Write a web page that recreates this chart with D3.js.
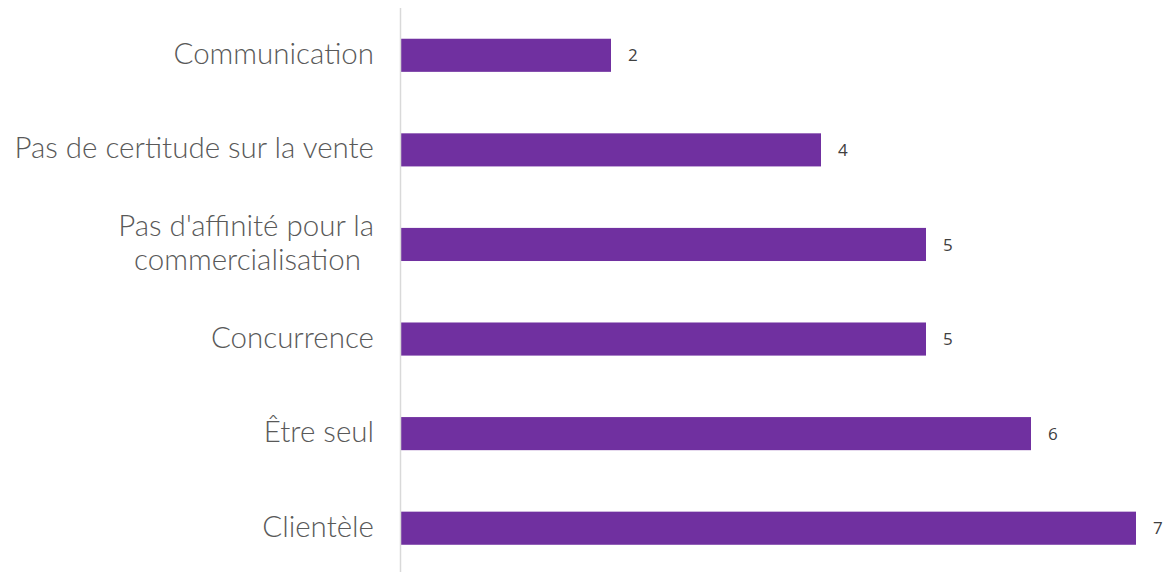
<!DOCTYPE html>
<html>
<head>
<meta charset="utf-8">
<script src="https://cdn.jsdelivr.net/npm/d3@7"></script>
<style>
  body { margin: 0; background: #fff; }
  svg { display: block; }
</style>
</head>
<body>
<svg id="chart"></svg>
<script>
// categories top to bottom, with their counts
const categories = ["Communication", "Pas de certitude sur la vente", "Pas d'affinité pour la commercialisation", "Concurrence", "Être seul", "Clientèle"];
const labelLines = [["Communication"], ["Pas de certitude sur la vente"], ["Pas d'affinité pour la", "commercialisation"], ["Concurrence"], ["Être seul"], ["Clientèle"]];
const values = [2, 4, 5, 5, 6, 7];

const width = 1166, height = 572;
const x0 = 401;

const svg = d3.select('#chart')
  .attr('width', width)
  .attr('height', height);

const x = d3.scaleLinear()
  .domain([0, 7])
  .range([x0, x0 + 7 * 105]);

const y = d3.scaleBand()
  .domain(categories)
  .range([8, 575.5])
  .paddingInner(0.65)
  .paddingOuter(0.325);

// bars
svg.selectAll('rect.bar')
  .data(values)
  .enter()
  .append('rect')
  .attr('class', 'bar')
  .attr('x', x(0))
  .attr('y', (d, i) => y(categories[i]))
  .attr('width', d => x(d) - x(0))
  .attr('height', y.bandwidth())
  .attr('fill', '#7030a0');

// vertical axis line
svg.append('line')
  .attr('x1', x(0) - 0.5).attr('x2', x(0) - 0.5)
  .attr('y1', 8).attr('y2', height)
  .attr('stroke', '#d9d9d9')
  .attr('stroke-width', 1.5);

// value labels
svg.selectAll('text.val')
  .data(values)
  .enter()
  .append('text')
  .attr('class', 'val')
  .attr('x', d => x(d) + 17)
  .attr('y', (d, i) => y(categories[i]) + y.bandwidth() / 2)
  .attr('dy', '0.36em')
  .attr('font-family', '"Open Sans", sans-serif')
  .attr('font-size', 17)
  .attr('fill', '#404040')
  .text(d => d);

// category labels
const lab = svg.selectAll('text.cat')
  .data(categories)
  .enter()
  .append('text')
  .attr('class', 'cat')
  .attr('text-anchor', 'end')
  .attr('font-family', 'Lato, "Open Sans", sans-serif')
  .attr('font-weight', 300)
  .attr('font-size', 29.5)
  .attr('fill', '#595959');

lab.each(function(d, i) {
  const lines = labelLines[i];
  const cy = y(d) + y.bandwidth() / 2;
  const lh = 34;
  const t = d3.select(this);
  lines.forEach((ln, j) => {
    t.append('tspan')
      .attr('x', j > 0 ? 361 : 374)
      .attr('y', cy + (j - (lines.length - 1) / 2) * lh)
      .attr('dy', '0.29em')
      .text(ln);
  });
});
</script>
</body>
</html>
